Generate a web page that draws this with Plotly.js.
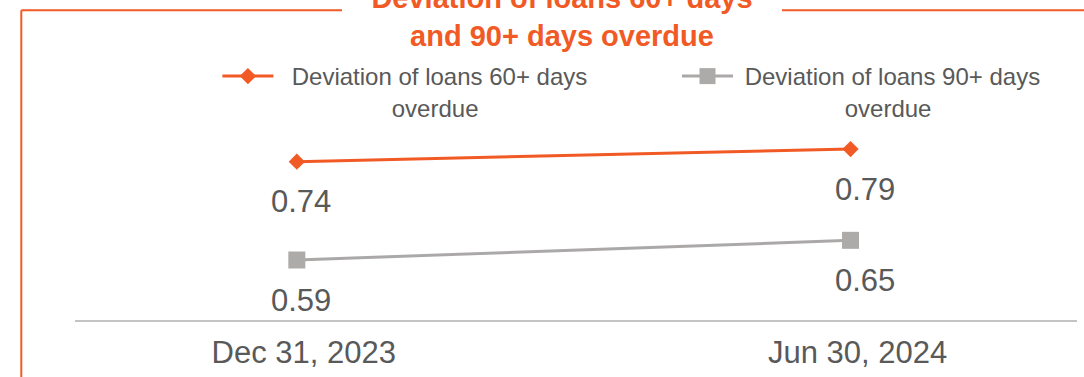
<!DOCTYPE html>
<html>
<head>
<meta charset="utf-8">
<script src="https://cdn.plot.ly/plotly-3.0.1.min.js"></script>
<style>
  html, body { margin: 0; padding: 0; background: #ffffff; }
  #chart { width: 1084px; height: 377px; }
</style>
</head>
<body>
<div id="chart"></div>
<script>
// ---- data ----
const categories = ['Dec 31, 2023', 'Jun 30, 2024'];
const overdue60 = [0.74, 0.79];
const overdue90 = [0.59, 0.65];
const name60 = ['Deviation of loans 60+ days', 'overdue'];
const name90 = ['Deviation of loans 90+ days', 'overdue'];
const chartTitle = ['Deviation of loans 60+ days', 'and 90+ days overdue'];

// ---- style ----
const W = 1084, H = 377;
const M = { l: 75, r: 7, t: 120, b: 57 };
const ORANGE = '#F15A24';
const GREY_LINE = '#ABA8A8';
const GREY_MARK = '#ADAAAA';
const TEXT = '#595959';
const FONT = 'Liberation Sans, Arial, sans-serif';
const labelXShift = [4, 14];

const pw = W - M.l - M.r, ph = H - M.t - M.b;
const pxX = p => (p - M.l) / pw;
const pxY = p => (H - M.b - p) / ph;

const pad = n => '\u00A0'.repeat(n);
const legendName = (parts, lead, indent) => pad(lead) + parts[0] + '<br>' + pad(indent) + parts[1];

const traces = [
  {
    x: categories, y: overdue60, yaxis: 'y', type: 'scatter', mode: 'lines+markers',
    name: legendName(name60, 2, 17), legend: 'legend',
    line: { color: ORANGE, width: 3 },
    marker: { symbol: 'diamond', size: 12.5, color: ORANGE },
    hoverinfo: 'y'
  },
  {
    x: categories, y: overdue90, yaxis: 'y2', type: 'scatter', mode: 'lines+markers',
    name: legendName(name90, 1, 16), legend: 'legend2',
    line: { color: GREY_LINE, width: 3 },
    marker: { symbol: 'square', size: 17, color: GREY_MARK },
    hoverinfo: 'y'
  }
];

const annotations = [];
[[overdue60, 'y'], [overdue90, 'y2']].forEach(([vals, yref]) => {
  vals.forEach((v, i) => {
    annotations.push({
      x: categories[i], y: v, xref: 'x', yref: yref,
      text: v.toFixed(2), showarrow: false,
      xshift: labelXShift[i], yshift: -40,
      font: { family: FONT, size: 31, color: TEXT }
    });
  });
});

const frame = { type: 'line', xref: 'paper', yref: 'paper', line: { color: ORANGE, width: 2 } };
const shapes = [
  Object.assign({}, frame, { x0: pxX(21.3), x1: pxX(21.3), y0: pxY(10.3), y1: pxY(390) }),
  Object.assign({}, frame, { x0: pxX(21.3), x1: pxX(342), y0: pxY(10.3), y1: pxY(10.3) }),
  Object.assign({}, frame, { x0: pxX(782), x1: pxX(1095), y0: pxY(10.3), y1: pxY(10.3) })
];

const legendBase = {
  orientation: 'h',
  xanchor: 'left', yanchor: 'top',
  font: { family: FONT, size: 24, color: TEXT },
  itemwidth: 51,
  valign: 'top',
  bgcolor: 'rgba(0,0,0,0)'
};

const layout = {
  width: W, height: H,
  margin: M,
  paper_bgcolor: '#ffffff', plot_bgcolor: '#ffffff',
  font: { family: FONT, color: TEXT },
  title: {
    text: chartTitle.join('<br>'),
    font: { family: FONT, size: 29, color: ORANGE, weight: 'bold' },
    xref: 'container', yref: 'container',
    x: 562 / W, xanchor: 'center',
    y: 0.979, yanchor: 'middle'
  },
  showlegend: true,
  legend: Object.assign({}, legendBase, { x: pxX(217.4), y: pxY(54) }),
  legend2: Object.assign({}, legendBase, { x: pxX(677), y: pxY(54) }),
  xaxis: {
    type: 'category',
    range: [-0.4006, 1.409],
    showline: true, linecolor: '#C4C4C4', linewidth: 2,
    showgrid: false, zeroline: false, ticks: '',
    tickfont: { family: FONT, size: 31, color: TEXT },
    ticklabelshift: 7,
    ticklabelstandoff: 4,
    fixedrange: true
  },
  yaxis: {
    range: [0.1168, 0.9042],
    visible: false, showgrid: false, zeroline: false, fixedrange: true
  },
  yaxis2: {
    range: [0.4071, 1.0168],
    overlaying: 'y', side: 'right',
    visible: false, showgrid: false, zeroline: false, fixedrange: true
  },
  annotations: annotations,
  shapes: shapes
};

Plotly.newPlot('chart', traces, layout, { displayModeBar: false, staticPlot: true });
</script>
</body>
</html>
